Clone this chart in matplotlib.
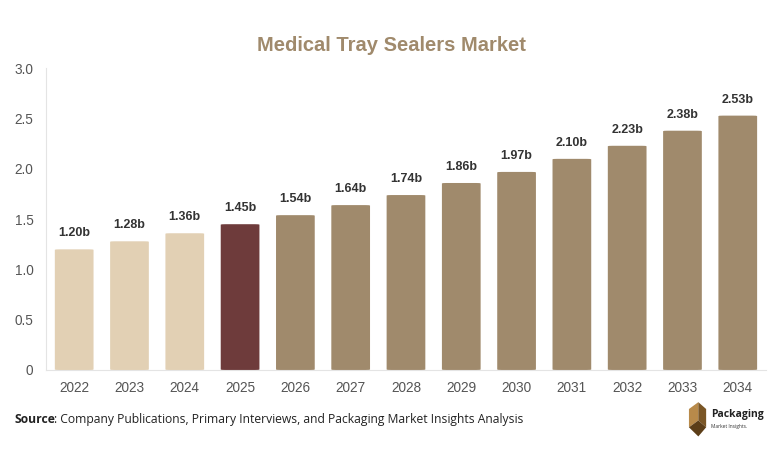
import matplotlib
matplotlib.use("Agg")
import matplotlib.pyplot as plt
from matplotlib.patches import FancyBboxPatch, Polygon

# data
years = ["2022", "2023", "2024", "2025", "2026", "2027", "2028",
         "2029", "2030", "2031", "2032", "2033", "2034"]
values = [1.20, 1.28, 1.36, 1.45, 1.54, 1.64, 1.74, 1.86, 1.97, 2.10, 2.23, 2.38, 2.53]
labels = ["1.20b", "1.28b", "1.36b", "1.45b", "1.54b", "1.64b", "1.74b",
          "1.86b", "1.97b", "2.10b", "2.23b", "2.38b", "2.53b"]

light = "#e2d0b4"
dark = "#6e3b3b"
brown = "#a08a6c"
colors = [light] * 3 + [dark] + [brown] * 9

plt.rcParams['font.family'] = ['Liberation Sans', 'DejaVu Sans']

fig = plt.figure(figsize=(7.82, 4.57), dpi=100)
ax = fig.add_axes([0.0588, 0.1904, 0.9207, 0.660])

bars = ax.bar(range(len(years)), values, width=0.7, color=colors)
# swap plain bars for ones with slightly rounded corners
for b, c in zip(bars, colors):
    b.set_visible(False)
    rb = FancyBboxPatch((b.get_x(), b.get_y()), b.get_width(), b.get_height(),
                        boxstyle="round,pad=0,rounding_size=0.08",
                        mutation_aspect=0.055, fc=c, ec="none")
    ax.add_patch(rb)

for i, (v, t) in enumerate(zip(values, labels)):
    ax.text(i, v + 0.1, t, ha="center", va="bottom", fontsize=9,
            fontweight="bold", color="#333333")

ax.set_xlim(-0.51, 12.51)
ax.set_ylim(0, 3.0)
ax.set_yticks([0, 0.5, 1.0, 1.5, 2.0, 2.5, 3.0])
ax.set_yticklabels(["0", "0.5", "1.0", "1.5", "2.0", "2.5", "3.0"])
ax.set_xticks(range(len(years)))
ax.set_xticklabels(years)
ax.tick_params(axis="both", length=0, labelsize=9.8, colors="#555555")
ax.tick_params(axis="x", pad=8)
ax.tick_params(axis="y", pad=9)
for s in ["top", "right"]:
    ax.spines[s].set_visible(False)
ax.spines["left"].set_color("#e4e4e4")
ax.spines["bottom"].set_color("#e4e4e4")

fig.text(0.5, 0.9, "Medical Tray Sealers Market", ha="center", va="center",
         fontsize=14.5, fontweight="bold", color=brown)

fig.text(0.019, 0.082, "Source", fontsize=8.7, fontweight="bold",
         family=["Open Sans", "DejaVu Sans"], color="#222222", va="center")
fig.text(0.0695, 0.082, ": Company Publications, Primary Interviews, and Packaging Market Insights Analysis",
         fontsize=8.7, family=["Open Sans", "DejaVu Sans"], color="#222222", va="center")

# logo
lx, ly = 0.893, 0.085
fig.patches.append(Polygon([(lx - 0.012, ly + 0.02), (lx, ly + 0.035), (lx, ly - 0.005), (lx - 0.012, ly - 0.02)],
                           closed=True, fc="#b88a4a", ec="none", transform=fig.transFigure))
fig.patches.append(Polygon([(lx, ly + 0.035), (lx + 0.01, ly + 0.02), (lx + 0.01, ly - 0.02), (lx, ly - 0.005)],
                           closed=True, fc="#7a5626", ec="none", transform=fig.transFigure))
fig.patches.append(Polygon([(lx - 0.012, ly - 0.02), (lx, ly - 0.005), (lx + 0.01, ly - 0.02), (lx, ly - 0.04)],
                           closed=True, fc="#5c3e18", ec="none", transform=fig.transFigure))
fig.text(0.909, 0.093, "Packaging", fontsize=7.5, fontweight="bold",
         family=["Open Sans", "DejaVu Sans"], color="#222222", va="center")
fig.text(0.909, 0.066, "Market Insights.", fontsize=3.5,
         family=["Open Sans", "DejaVu Sans"], color="#333333", va="center")

fig.savefig("out.png", dpi=100, facecolor="white")
